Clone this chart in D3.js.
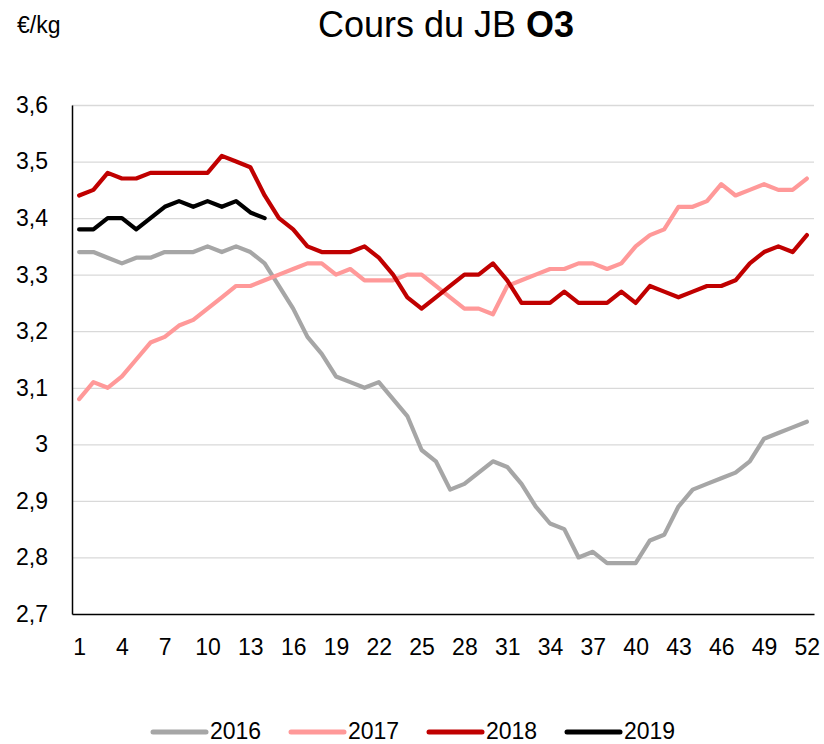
<!DOCTYPE html>
<html>
<head>
<meta charset="utf-8">
<script src="https://cdn.jsdelivr.net/npm/d3@7"></script>
<style>
  body { margin: 0; background: #fff; }
  text { font-family: "Liberation Sans", Arial, sans-serif; fill: #000; }
</style>
</head>
<body>
<div id="chart"></div>
<script>
// weeks 1..52
var weeks = d3.range(1, 53);
var xTicks = [1, 4, 7, 10, 13, 16, 19, 22, 25, 28, 31, 34, 37, 40, 43, 46, 49, 52];
var yTicks = [2.7, 2.8, 2.9, 3.0, 3.1, 3.2, 3.3, 3.4, 3.5, 3.6];

var years = ["2016", "2017", "2018", "2019"];
var colors = ["#a6a6a6", "#ff9999", "#c00000", "#000000"];

var s2016 = [3.34,3.34,3.33,3.32,3.33,3.33,3.34,3.34,3.34,3.35,
             3.34,3.35,3.34,3.32,3.28,3.24,3.19,3.16,3.12,3.11,
             3.10,3.11,3.08,3.05,2.99,2.97,2.92,2.93,2.95,2.97,
             2.96,2.93,2.89,2.86,2.85,2.80,2.81,2.79,2.79,2.79,
             2.83,2.84,2.89,2.92,2.93,2.94,2.95,2.97,3.01,3.02,
             3.03,3.04];
var s2017 = [3.08,3.11,3.10,3.12,3.15,3.18,3.19,3.21,3.22,3.24,
             3.26,3.28,3.28,3.29,3.30,3.31,3.32,3.32,3.30,3.31,
             3.29,3.29,3.29,3.30,3.30,3.28,3.26,3.24,3.24,3.23,
             3.28,3.29,3.30,3.31,3.31,3.32,3.32,3.31,3.32,3.35,
             3.37,3.38,3.42,3.42,3.43,3.46,3.44,3.45,3.46,3.45,
             3.45,3.47];
var s2018 = [3.44,3.45,3.48,3.47,3.47,3.48,3.48,3.48,3.48,3.48,
             3.51,3.50,3.49,3.44,3.40,3.38,3.35,3.34,3.34,3.34,
             3.35,3.33,3.30,3.26,3.24,3.26,3.28,3.30,3.30,3.32,
             3.29,3.25,3.25,3.25,3.27,3.25,3.25,3.25,3.27,3.25,
             3.28,3.27,3.26,3.27,3.28,3.28,3.29,3.32,3.34,3.35,
             3.34,3.37];
var s2019 = [3.38,3.38,3.40,3.40,3.38,3.40,3.42,3.43,3.42,3.43,
             3.42,3.43,3.41,3.40];

var seriesValues = [s2016, s2017, s2018, s2019];

var width = 824, height = 744;
var margin = {top: 105, right: 10, bottom: 130, left: 72};
var plotW = 814 - margin.left, plotH = 614 - margin.top;

var svg = d3.select("#chart").append("svg")
    .attr("width", width)
    .attr("height", height);

var g = svg.append("g")
    .attr("transform", "translate(" + margin.left + "," + margin.top + ")");

var x = d3.scalePoint().domain(weeks).range([0, plotW]).padding(0.5);
var y = d3.scaleLinear().domain([2.7, 3.6]).range([plotH, 0]);

function frNum(d) {
  return (Math.round(d * 10) / 10).toString().replace(".", ",");
}

// gridlines
g.append("g")
    .call(d3.axisLeft(y).tickValues(yTicks.slice(1)).tickSize(-plotW).tickFormat(""))
    .call(function(a) {
      a.select(".domain").remove();
      a.selectAll("line").attr("stroke", "#d9d9d9").attr("stroke-width", 1.3);
    });

// y axis
g.append("g")
    .call(d3.axisLeft(y).tickValues(yTicks).tickSize(0).tickPadding(24).tickFormat(frNum))
    .call(function(a) {
      a.select(".domain").attr("stroke", "#000").attr("stroke-width", 1.5);
      a.selectAll("text").style("font-size", "23px")
        .style("font-family", "'Liberation Sans', Arial, sans-serif").attr("fill", "#000");
    });

// x axis
g.append("g")
    .attr("transform", "translate(0," + plotH + ")")
    .call(d3.axisBottom(x).tickValues(xTicks).tickSize(0))
    .call(function(a) {
      a.select(".domain").attr("stroke", "#000").attr("stroke-width", 1.5);
      a.selectAll("text").attr("y", 41).attr("dy", null).style("font-size", "23px")
        .style("font-family", "'Liberation Sans', Arial, sans-serif").attr("fill", "#000");
    });

// lines
var line = d3.line()
    .x(function(d, i) { return x(weeks[i]); })
    .y(function(d) { return y(d); });

g.selectAll(".serie")
    .data(seriesValues)
  .enter().append("path")
    .attr("class", "serie")
    .attr("fill", "none")
    .attr("stroke", function(d, i) { return colors[i]; })
    .attr("stroke-width", 4.2)
    .attr("stroke-linejoin", "round")
    .attr("stroke-linecap", "round")
    .attr("d", line);

// title
var title = svg.append("text")
    .attr("x", 446)
    .attr("y", 37)
    .attr("text-anchor", "middle")
    .style("font-size", "36px");
title.append("tspan").text("Cours du JB ");
title.append("tspan").style("font-weight", "bold").text("O3");

// unit
svg.append("text")
    .attr("x", 17)
    .attr("y", 33)
    .style("font-size", "23px")
    .text("€/kg");

// legend
var legend = svg.selectAll(".legend")
    .data(years)
  .enter().append("g")
    .attr("class", "legend")
    .attr("transform", function(d, i) { return "translate(" + (153 + i * 138) + ",732)"; });

legend.append("line")
    .attr("x1", 0).attr("x2", 53)
    .attr("stroke", function(d, i) { return colors[i]; })
    .attr("stroke-width", 5)
    .attr("stroke-linecap", "round");

legend.append("text")
    .attr("x", 57)
    .attr("y", 7)
    .style("font-size", "23px")
    .text(function(d) { return d; });
</script>
</body>
</html>
